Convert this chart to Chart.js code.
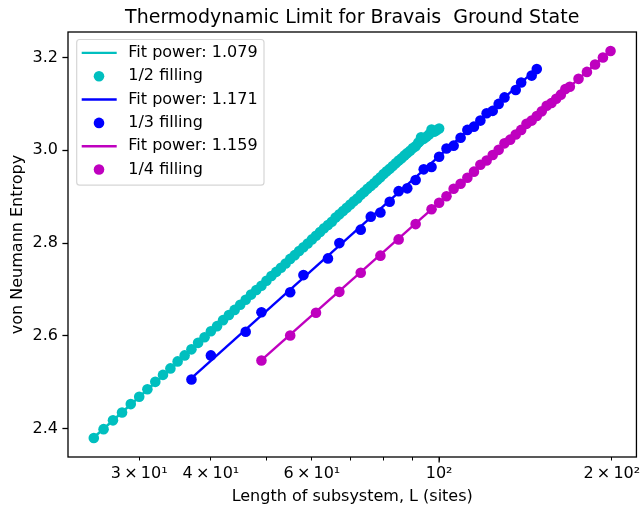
<!DOCTYPE html>
<html lang="en">
<head>
  <meta charset="UTF-8">
  <title>Thermodynamic Limit</title>
  <script src="https://cdn.jsdelivr.net/npm/chart.js"></script>
  <style>
    body { margin: 0; background: #fff; }
    #wrap { width: 644px; height: 508px; }
  </style>
</head>
<body>
  <div id="wrap"><canvas id="entropyChart" width="644" height="508"></canvas></div>

  <script>
    // subsystem length L (sites) and von Neumann entropy
    const halfL = [25, 26, 27, 28, 29, 30, 31, 32, 33, 34, 35, 36, 37, 38, 39, 40, 41, 42, 43, 44,
                   45, 46, 47, 48, 49, 50, 51, 52, 53, 54, 55, 56, 57, 58, 59, 60, 61, 62, 63, 64,
                   65, 66, 67, 68, 69, 70, 71, 72, 73, 74, 75, 76, 77, 78, 79, 80, 81, 82, 83, 84,
                   85, 86, 87, 88, 89, 90, 91, 92, 93, 94, 95, 96, 97, 98, 99, 100];
    const halfS = [2.380, 2.399, 2.418, 2.435, 2.453, 2.469, 2.485, 2.501, 2.516, 2.530,
                   2.545, 2.558, 2.571, 2.585, 2.597, 2.610, 2.621, 2.634, 2.645, 2.656,
                   2.667, 2.678, 2.689, 2.699, 2.708, 2.719, 2.729, 2.738, 2.747, 2.756,
                   2.766, 2.774, 2.783, 2.791, 2.799, 2.808, 2.816, 2.824, 2.832, 2.839,
                   2.846, 2.855, 2.862, 2.869, 2.876, 2.883, 2.890, 2.896, 2.904, 2.910,
                   2.917, 2.923, 2.929, 2.936, 2.942, 2.949, 2.955, 2.960, 2.966, 2.972,
                   2.978, 2.983, 2.989, 2.994, 2.999, 3.005, 3.009, 3.017, 3.028, 3.025,
                   3.029, 3.034, 3.045, 3.040, 3.043, 3.047];

    const thirdL = [37, 40, 46, 49, 55, 58, 64, 67, 73, 76, 79, 82, 85, 88, 91, 94, 97, 100,
                    103, 106, 109, 112, 115, 118, 121, 124, 127, 130, 136, 139, 145, 148];
    const thirdS = [2.506, 2.558, 2.609, 2.651, 2.694, 2.731, 2.767, 2.800, 2.829, 2.857,
                    2.866, 2.889, 2.912, 2.918, 2.936, 2.959, 2.964, 2.986, 3.004, 3.010,
                    3.027, 3.044, 3.051, 3.064, 3.080, 3.085, 3.100, 3.114, 3.130, 3.146,
                    3.161, 3.175];

    const quarterL = [49, 55, 61, 67, 73, 79, 85, 91, 97, 100, 103, 106, 109, 112, 115, 118,
                      121, 124, 127, 130, 133, 136, 139, 142, 145, 148, 151, 154, 157, 160,
                      163, 166, 169, 175, 181, 187, 193, 199];
    const quarterS = [2.547, 2.601, 2.650, 2.695, 2.736, 2.773, 2.808, 2.841, 2.873, 2.887,
                      2.901, 2.917, 2.928, 2.941, 2.954, 2.969, 2.978, 2.990, 3.001, 3.015,
                      3.023, 3.034, 3.044, 3.057, 3.064, 3.074, 3.084, 3.096, 3.102, 3.111,
                      3.120, 3.132, 3.137, 3.154, 3.169, 3.185, 3.200, 3.214];

    // fitted lines (end points)
    const halfFitL = [25, 100];
    const halfFitS = [2.381, 3.045];
    const thirdFitL = [37, 148];
    const thirdFitS = [2.509, 3.176];
    const quarterFitL = [49, 199];
    const quarterFitS = [2.548, 3.215];

    const fitLabels = ['Fit power: 1.079', 'Fit power: 1.171', 'Fit power: 1.159'];
    const fillLabels = ['1/2 filling', '1/3 filling', '1/4 filling'];

    const xTickVals = [30, 40, 50, 60, 70, 80, 90, 100, 200];
    const xTickLabels = ['3\u2009×\u200910¹', '4\u2009×\u200910¹', '', '6\u2009×\u200910¹', '', '', '', '10²', '2\u2009×\u200910²'];
    const yTickVals = [2.4, 2.6, 2.8, 3.0, 3.2];

    const cyan = '#00bfbf';
    const blue = '#0000ff';
    const magenta = '#bf00bf';

    const pts = (xs, ys) => xs.map((x, i) => ({ x: x, y: ys[i] }));

    const fitSet = (label, xs, ys, color) => ({
      label: label, data: pts(xs, ys), showLine: true,
      borderColor: color, borderWidth: 2.4, pointRadius: 0, order: 2
    });
    const dotSet = (label, xs, ys, color) => ({
      label: label, data: pts(xs, ys), showLine: false,
      pointBackgroundColor: color, pointBorderWidth: 0, pointRadius: 5.3, order: 1
    });

    // axes frame on all four sides, plus the longer major tick at 10^2
    const framePlugin = {
      id: 'frame',
      afterDraw(chart) {
        const { ctx, chartArea: a, scales } = chart;
        ctx.save();
        ctx.strokeStyle = '#000';
        ctx.lineWidth = 1.3;
        ctx.strokeRect(a.left, a.top, a.right - a.left, a.bottom - a.top);
        const px = scales.x.getPixelForValue(100);
        ctx.beginPath();
        ctx.moveTo(px, a.bottom);
        ctx.lineTo(px, a.bottom + 5.6);
        ctx.stroke();
        ctx.restore();
      }
    };

    // matplotlib-style legend box in the upper left
    const legendPlugin = {
      id: 'boxLegend',
      afterDraw(chart) {
        const { ctx, chartArea: a } = chart;
        const x = a.left + 8.7, y = a.top + 7.5, w = 187.3, h = 145.7;
        ctx.save();
        ctx.beginPath();
        ctx.roundRect(x, y, w, h, 3);
        ctx.fillStyle = 'rgba(255,255,255,0.8)';
        ctx.fill();
        ctx.strokeStyle = '#d6d6d6';
        ctx.lineWidth = 1.2;
        ctx.stroke();
        ctx.font = '16px "DejaVu Sans"';
        ctx.textBaseline = 'middle';
        chart.data.datasets.forEach((ds, i) => {
          const cy = y + 13.4 + i * 23.33;
          if (ds.showLine) {
            ctx.strokeStyle = ds.borderColor;
            ctx.lineWidth = 2.4;
            ctx.beginPath();
            ctx.moveTo(x + 5, cy);
            ctx.lineTo(x + 40, cy);
            ctx.stroke();
          } else {
            ctx.fillStyle = ds.pointBackgroundColor;
            ctx.beginPath();
            ctx.arc(x + 22.3, cy, 5.3, 0, Math.PI * 2);
            ctx.fill();
          }
          ctx.fillStyle = '#000';
          ctx.fillText(ds.label, x + 51.6, cy);
        });
        ctx.restore();
      }
    };

    Chart.defaults.font.family = '"DejaVu Sans", sans-serif';
    Chart.defaults.color = '#000';

    new Chart(document.getElementById('entropyChart'), {
      type: 'scatter',
      data: {
        datasets: [
          fitSet(fitLabels[0], halfFitL, halfFitS, cyan),
          dotSet(fillLabels[0], halfL, halfS, cyan),
          fitSet(fitLabels[1], thirdFitL, thirdFitS, blue),
          dotSet(fillLabels[1], thirdL, thirdS, blue),
          fitSet(fitLabels[2], quarterFitL, quarterFitS, magenta),
          dotSet(fillLabels[2], quarterL, quarterS, magenta)
        ]
      },
      options: {
        responsive: false,
        animation: false,
        layout: { padding: { left: 0, right: 4, top: 0, bottom: 0 } },
        plugins: {
          legend: { display: false },
          tooltip: { enabled: false },
          title: {
            display: true,
            text: 'Thermodynamic Limit for Bravais  Ground State',
            fullSize: false,
            color: '#000',
            font: { size: 19, weight: 'normal' },
            padding: { top: 6.5, bottom: 2.7 }
          }
        },
        scales: {
          x: {
            type: 'logarithmic',
            min: 22.54,
            max: 220.8,
            border: { display: false },
            grid: { drawOnChartArea: false, tickLength: 3.5, tickColor: '#000', tickWidth: 1 },
            ticks: {
              autoSkip: false,
              maxRotation: 0,
              padding: 3.5,
              color: '#000',
              font: { size: 16 },
              callback: (v) => xTickLabels[xTickVals.indexOf(v)]
            },
            afterBuildTicks: (s) => { s.ticks = xTickVals.map(v => ({ value: v })); },
            afterFit: (s) => { s.height = 51; },
            title: {
              display: true,
              text: 'Length of subsystem, L (sites)',
              color: '#000',
              font: { size: 16 },
              padding: { top: 0, bottom: 2 }
            }
          },
          y: {
            min: 2.339,
            max: 3.255,
            border: { display: false },
            grid: { drawOnChartArea: false, tickLength: 5.6, tickColor: '#000', tickWidth: 1.3 },
            ticks: {
              padding: 4.5,
              color: '#000',
              font: { size: 16 },
              callback: (v) => v.toFixed(1)
            },
            afterBuildTicks: (s) => { s.ticks = yTickVals.map(v => ({ value: v })); },
            afterFit: (s) => { s.width = 68; },
            title: {
              display: true,
              text: 'von Neumann Entropy',
              color: '#000',
              font: { size: 16 },
              padding: { top: 8, bottom: 0 }
            }
          }
        }
      },
      plugins: [framePlugin, legendPlugin]
    });
  </script>
</body>
</html>
